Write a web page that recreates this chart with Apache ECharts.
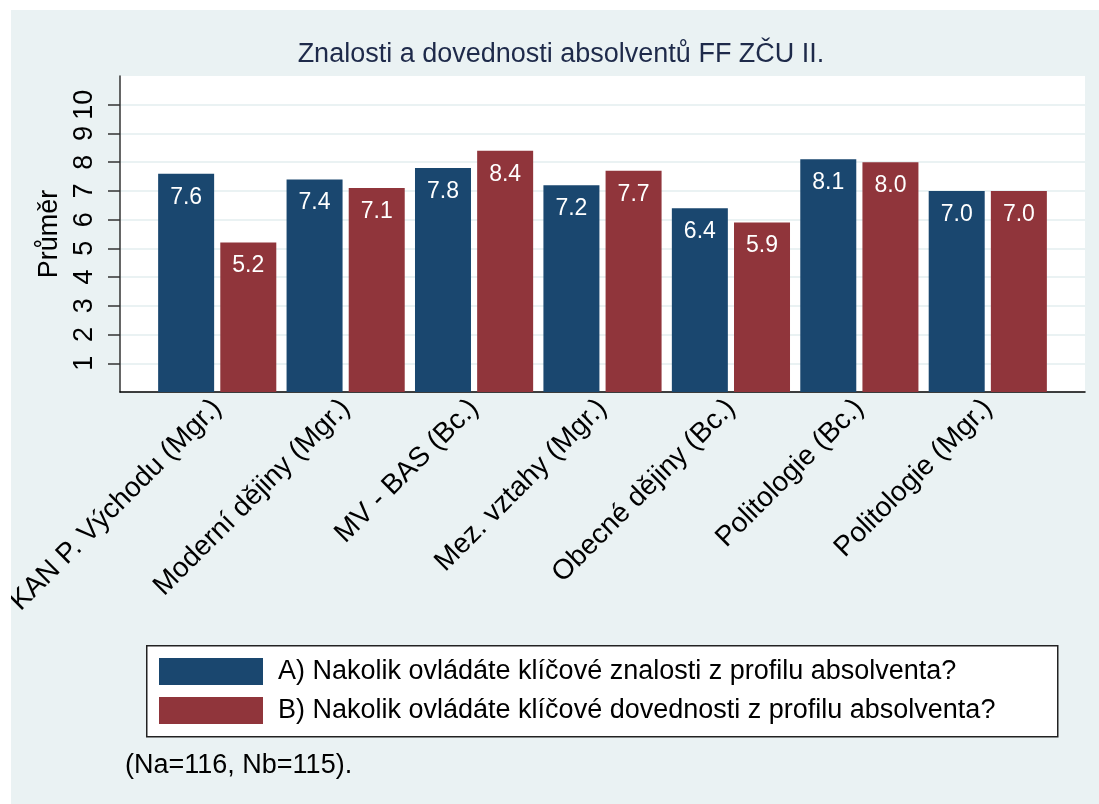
<!DOCTYPE html>
<html>
<head>
<meta charset="utf-8">
<script src="https://cdn.jsdelivr.net/npm/echarts@6/dist/echarts.min.js"></script>
<style>
    html, body { margin: 0; padding: 0; background: #fff; }
    #main { position: absolute; left: 11px; top: 10px; width: 1088px; height: 794px; }
</style>
</head>
<body>
<div id="main"></div>
<script>
var obory = ['KAN P. Východu (Mgr.)', 'Moderní dějiny (Mgr.)', 'MV - BAS (Bc.)', 'Mez. vztahy (Mgr.)',
    'Obecné dějiny (Bc.)', 'Politologie (Bc.)', 'Politologie (Mgr.)'];
var znalosti = [7.6, 7.4, 7.8, 7.2, 6.4, 8.1, 7.0];
var dovednosti = [5.2, 7.1, 8.4, 7.7, 5.9, 8.0, 7.0];
var yTicks = [1, 2, 3, 4, 5, 6, 7, 8, 9, 10];
var nazevA = 'A) Nakolik ovládáte klíčové znalosti z profilu absolventa?';
var nazevB = 'B) Nakolik ovládáte klíčové dovednosti z profilu absolventa?';

var font = 'Liberation Sans, Arial, sans-serif';

//popisky uvnitř sloupců
var barLabel = {
    show: true,
    position: 'insideTop',
    distance: 12,
    color: '#fff',
    fontFamily: font,
    fontSize: 23,
    formatter: function (p) {
        return p.value.toFixed(1);
    }
};

var myChart = echarts.init(document.getElementById('main'));

var option = {
    backgroundColor: '#eaf2f3',
    animation: false,
    title: [
        {
            text: 'Znalosti a dovednosti absolventů FF ZČU II.',
            left: 550,
            textAlign: 'center',
            top: 31,
            padding: 0,
            textStyle: { fontFamily: font, fontSize: 27, fontWeight: 'normal', color: '#1e2a4a' }
        },
        {
            text: '(Na=116, Nb=115).',
            left: 114,
            top: 742,
            padding: 0,
            textStyle: { fontFamily: font, fontSize: 27, fontWeight: 'normal', color: '#000' }
        }
    ],
    legend: {
        orient: 'vertical',
        left: 148,
        top: 648,
        padding: 0,
        itemWidth: 104,
        itemHeight: 27,
        itemGap: 12,
        icon: 'rect',
        textStyle: { fontFamily: font, fontSize: 27, color: '#000', padding: [0, 0, 0, 10] },
        data: [nazevA, nazevB]
    },
    graphic: [
        {
            type: 'rect',
            left: 135,
            top: 635,
            z: 1,
            shape: { width: 911, height: 91 },
            style: { fill: '#fff', stroke: '#222', lineWidth: 1.5 }
        }
    ],
    grid: [
        { left: 109, right: 14, top: 66, bottom: 412, show: true, backgroundColor: '#fff', borderWidth: 0, outerBoundsMode: 'none' },
        { left: 142, right: 47, top: 66, bottom: 412, outerBoundsMode: 'none' }
    ],
    xAxis: [
        {
            gridIndex: 0,
            type: 'value',
            min: 0,
            max: 1,
            axisLine: { show: true, lineStyle: { color: '#000', width: 1.5 } },
            axisTick: { show: false },
            axisLabel: { show: false },
            splitLine: { show: false }
        },
        {
            gridIndex: 1,
            type: 'category',
            data: obory,
            axisLine: { show: false },
            axisTick: { show: false },
            axisLabel: {
                interval: 0,
                rotate: 45,
                margin: 12,
                fontFamily: font,
                fontSize: 28,
                color: '#000'
            }
        }
    ],
    yAxis: [
        {
            gridIndex: 0,
            type: 'value',
            min: 0,
            max: 11,
            interval: 1,
            name: 'Průměr',
            nameLocation: 'middle',
            nameGap: 52,
            nameTextStyle: { fontFamily: font, fontSize: 27, color: '#000' },
            axisLine: { show: true, lineStyle: { color: '#333', width: 1.5 } },
            axisTick: { show: true, length: 12, customValues: yTicks, lineStyle: { color: '#333', width: 1.5 } },
            axisLabel: {
                customValues: yTicks,
                rotate: 90,
                margin: 22,
                fontFamily: font,
                fontSize: 27,
                color: '#000'
            },
            splitLine: { show: true, lineStyle: { color: '#eaf2f3', width: 2 } }
        },
        {
            gridIndex: 1,
            type: 'value',
            min: 0,
            max: 11,
            show: false
        }
    ],
    series: [
        {
            type: 'bar',
            name: nazevA,
            xAxisIndex: 1,
            yAxisIndex: 1,
            barWidth: 56,
            barGap: '11%',
            itemStyle: { color: '#1a476f' },
            label: barLabel,
            data: znalosti
        },
        {
            type: 'bar',
            name: nazevB,
            xAxisIndex: 1,
            yAxisIndex: 1,
            barWidth: 56,
            barGap: '11%',
            itemStyle: { color: '#90353b' },
            label: barLabel,
            data: dovednosti
        }
    ]
};
myChart.setOption(option);
</script>
</body>
</html>
